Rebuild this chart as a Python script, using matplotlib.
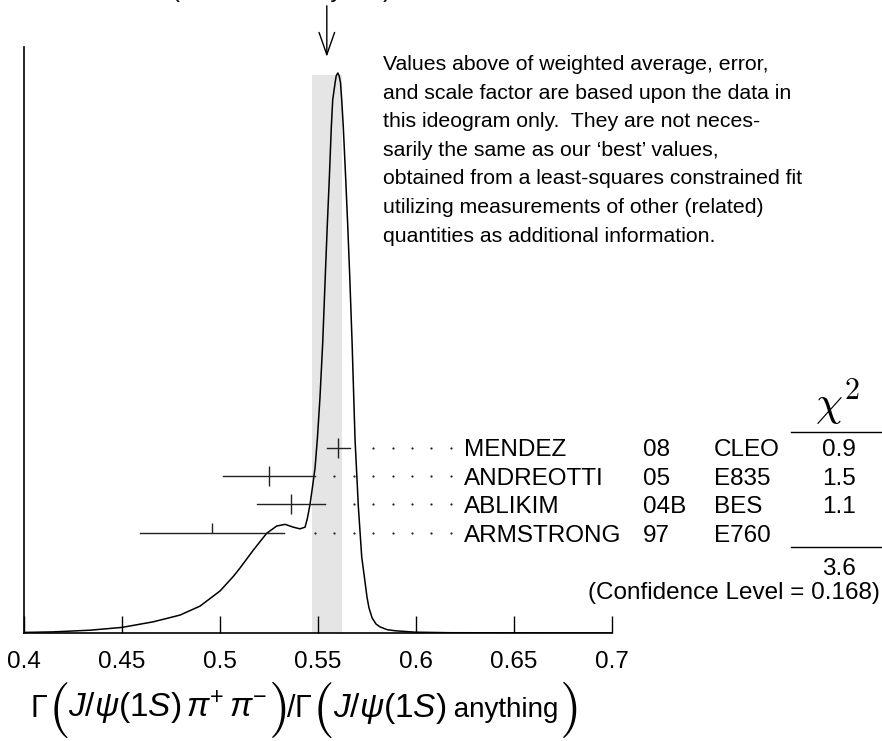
import numpy as np
import matplotlib
matplotlib.use("Agg")
import matplotlib.pyplot as plt
from matplotlib import transforms
from matplotlib.lines import Line2D

plt.rcParams['font.family'] = ['Liberation Sans', 'DejaVu Sans']
plt.rcParams['mathtext.fontset'] = 'custom'
plt.rcParams['mathtext.rm'] = 'Liberation Sans'
plt.rcParams['mathtext.it'] = 'Liberation Sans:italic'
plt.rcParams['mathtext.sf'] = 'Liberation Sans'

# medidas
autores = ["MENDEZ", "ANDREOTTI", "ABLIKIM", "ARMSTRONG"]
anos = ["08", "05", "04B", "97"]
experimentos = ["CLEO", "E835", "BES", "E760"]
valores = [0.5604, 0.525, 0.5361, 0.4961]
erros = [0.006, 0.0235, 0.0174, 0.0368]
usado = [True, True, True, False]
chi2 = ["0.9", "1.5", "1.1", ""]
chi2_total = "3.6"
nivel_confianca = "0.168"

# media ponderada (faixa cinza)
media = 0.5545
erro_media = 0.0076

# ideograma (unidades arbitrarias)
curva_x = [0.400, 0.415, 0.4337, 0.450, 0.466, 0.4796, 0.4898, 0.500, 0.5068,
           0.5102, 0.517, 0.5238, 0.5289, 0.5332, 0.5374, 0.5408, 0.5434,
           0.5446, 0.5459, 0.5472, 0.5485, 0.5497, 0.551, 0.5524, 0.5537,
           0.5547, 0.5558, 0.5568, 0.5575, 0.5587, 0.5593, 0.5601, 0.5608,
           0.5615, 0.5621, 0.5629, 0.5641, 0.5652, 0.5662, 0.5674, 0.5689,
           0.5706, 0.5723, 0.574, 0.575, 0.576, 0.5776, 0.5796, 0.5816,
           0.5852, 0.5893, 0.5995, 0.6173, 0.700]
curva_y = [0.001, 0.002, 0.005, 0.010, 0.020, 0.032, 0.048, 0.075, 0.101,
           0.116, 0.148, 0.178, 0.191, 0.194, 0.189, 0.186, 0.189,
           0.205, 0.229, 0.261, 0.295, 0.348, 0.420, 0.518, 0.636,
           0.725, 0.814, 0.904, 0.952, 0.982, 0.995, 1.000, 0.995,
           0.982, 0.952, 0.904, 0.814, 0.725, 0.636, 0.518, 0.345,
           0.225, 0.136, 0.091, 0.064, 0.045, 0.027, 0.016, 0.011,
           0.006, 0.004, 0.0015, 0.0005, 0.0]

nota = ("Values above of weighted average, error,\n"
        "and scale factor are based upon the data in\n"
        "this ideogram only.  They are not neces-\n"
        "sarily the same as our \u2018best\u2019 values,\n"
        "obtained from a least-squares constrained fit\n"
        "utilizing measurements of other (related)\n"
        "quantities as additional information.")

W, H = 882, 741


def fx(px):
    return px / W


def fy(py):
    return 1 - py / H


fig = plt.figure(figsize=(8.82, 7.41), dpi=100)
ax = fig.add_axes([fx(24), fy(633), fx(612) - fx(24), (633 - 47) / H])
ax.set_xlim(0.4, 0.7)
ax.set_ylim(0, 586 / 560)

for s in ["top", "right"]:
    ax.spines[s].set_visible(False)
ax.spines["left"].set_linewidth(1.2)
ax.spines["bottom"].set_linewidth(1.2)
ax.set_yticks([])
ax.set_xticks([0.4, 0.45, 0.5, 0.55, 0.6, 0.65, 0.7])
ax.set_xticklabels(["0.4", "0.45", "0.5", "0.55", "0.6", "0.65", "0.7"])
ax.tick_params(axis="x", direction="in", length=12.2, width=1.0, pad=13,
               labelsize=17.5)

# faixa da media
ax.fill_between([media - erro_media, media + erro_media], 0, 0.996,
                color="#e5e5e5", lw=0, zorder=0)

# curva
ax.plot(curva_x, curva_y, color="black", lw=1.1, zorder=3)

# seta
ax.annotate("", xy=(media, 1.029), xytext=(media, 1.12),
            arrowprops=dict(arrowstyle="->,head_length=0.8,head_width=0.28",
                            mutation_scale=20, lw=1.0, color="black",
                            shrinkA=0, shrinkB=0),
            annotation_clip=False)

# medidas com barras de erro
y_linhas = 0.331 - 0.0507 * np.arange(len(autores))
meia = 10 / 560
grade = 0.5485 + 0.0099 * np.arange(-12, 8)
for v, e, u, y in zip(valores, erros, usado, y_linhas):
    ax.plot([v - e, v + e], [y, y], color="#222222", lw=1.0, zorder=4)
    ax.vlines(v, y - meia if u else y, y + meia, color="#222222", lw=1.0,
              zorder=4)
    pts = grade[(grade > v + e + 0.0095) & (grade < 0.62)]
    ax.plot(pts, [y] * len(pts), ls="none", marker="o", ms=1.6,
            color="#222222", mew=0, zorder=4)

mix = transforms.blended_transform_factory(fig.transFigure, ax.transData)
mix = transforms.offset_copy(mix, fig=fig, y=-6.3, units="points")
for a, an, ex, c, y in zip(autores, anos, experimentos, chi2, y_linhas):
    ax.text(fx(464), y, a, transform=mix, fontsize=17.5, va="baseline")
    ax.text(fx(643), y, an, transform=mix, fontsize=17.5, va="baseline")
    ax.text(fx(714), y, ex, transform=mix, fontsize=17.5, va="baseline")
    ax.text(fx(839), y, c, transform=mix, fontsize=17.5, va="baseline",
            ha="center")

# coluna do chi2
fig.text(fx(838), fy(428), r"$\chi^2$", math_fontfamily="cm", fontsize=31,
         ha="center", va="bottom")
fig.add_artist(Line2D([fx(791), fx(882)], [fy(431.7), fy(431.7)],
                      color="black", lw=1.0))
fig.add_artist(Line2D([fx(791), fx(882)], [fy(546.7), fy(546.7)],
                      color="black", lw=1.0))
fig.text(fx(839), fy(568.6), chi2_total, fontsize=17.5, ha="center",
         va="center")
fig.text(fx(880), fy(593), "(Confidence Level = " + nivel_confianca + ")",
         fontsize=17.5, ha="right", va="center")

# nota
fig.text(fx(383), fy(55), nota, fontsize=15.3, va="top", ha="left",
         linespacing=1.64)

# titulo cortado no topo
fig.text(fx(30), fy(-30), "WEIGHTED AVERAGE", fontsize=17.5, va="baseline")
fig.text(fx(30), fy(-3), "0.555\u00b10.008 (Error scaled by 1.3)",
         fontsize=17.5, va="baseline")

# rotulo do eixo x, com parenteses grandes
renderer = fig.canvas.get_renderer()
partes = [(r"$\Gamma$", 22, False), ("$($", 40, True),
          (r"$J/\psi(1S)\,\pi^{+}\,\pi^{-}$", 24, False), ("$)$", 40, True),
          (r"$/\Gamma$", 22, False), ("$($", 40, True),
          (r"$J/\psi(1S)$", 24, False), (" anything", 20, False),
          ("$)$", 40, True)]
xa = 30
for txt, tam, grande in partes:
    if grande:
        t = fig.text(fx(xa), fy(724), txt, fontsize=tam, math_fontfamily="cm",
                     va="baseline")
    else:
        t = fig.text(fx(xa), fy(717), txt, fontsize=tam, va="baseline")
    xa += t.get_window_extent(renderer).width

fig.savefig("out.png", dpi=100)
